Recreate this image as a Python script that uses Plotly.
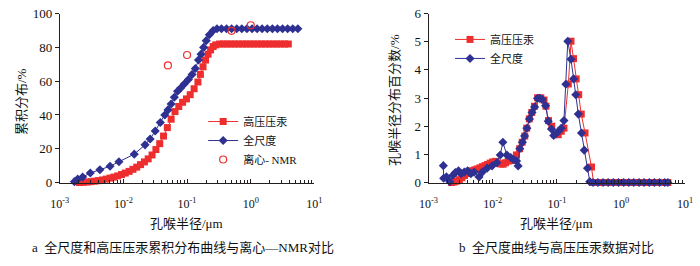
import plotly.graph_objects as go

# ---------------- data: left chart (cumulative distribution, %) ----------------
hp_cum_r = [0.00204, 0.00234, 0.00269, 0.00309, 0.00355, 0.00407, 0.00468, 0.00537, 0.00617, 0.00708,
            0.00813, 0.00933, 0.0107, 0.0123, 0.0141, 0.0162, 0.0186, 0.0214, 0.0245, 0.0282,
            0.0324, 0.0372, 0.0427, 0.0490, 0.0562, 0.0646, 0.0741, 0.0851, 0.0977, 0.112,
            0.129, 0.148, 0.162, 0.178, 0.195, 0.214, 0.234, 0.257, 0.282, 0.324,
            0.372, 0.427, 0.490, 0.562, 0.646, 0.741, 0.851, 0.977, 1.12, 1.29,
            1.48, 1.70, 1.95, 2.24, 2.57, 2.95, 3.39, 3.89]
hp_cum_v = [0, 0.1, 0.3, 0.5, 0.8, 1.1, 1.5, 2.0, 2.6, 3.2,
            3.9, 4.7, 5.6, 6.6, 7.8, 9.1, 10.6, 12.2, 14.0, 16.3,
            19.5, 23.0, 27.5, 32.5, 37.5, 42.0, 45.0, 47.5, 49.5, 52.0,
            55.5, 59.5, 64.0, 68.5, 72.5, 76.0, 78.5, 80.5, 81.5, 82.0,
            82, 82, 82, 82, 82, 82, 82, 82, 82, 82,
            82, 82, 82, 82, 82, 82, 82, 82]

fs_cum_r = [0.00170, 0.00191, 0.00229, 0.00302, 0.00427, 0.00617, 0.00851, 0.0148, 0.0219, 0.0263,
            0.0316, 0.0380, 0.0447, 0.0501, 0.0562, 0.0631, 0.0708, 0.0794, 0.0912, 0.105,
            0.120, 0.135, 0.151, 0.166, 0.182, 0.200, 0.224, 0.257, 0.295, 0.347,
            0.417, 0.501, 0.603, 0.724, 0.871, 1.05, 1.26, 1.51, 1.82, 2.19,
            2.63, 3.16, 3.80, 4.57, 5.50]
fs_cum_v = [0.5, 2.0, 3.3, 5.6, 7.6, 9.6, 12.3, 16.8, 22.3, 25.8,
            30.5, 35.5, 40.0, 43.0, 46.5, 50.5, 54.0, 56.0, 58.5, 61.0,
            64.0, 67.5, 72.5, 76.0, 80.0, 84.0, 87.5, 90.0, 91.0, 91.0,
            91, 91, 91, 91, 91, 91, 91, 91, 91, 91,
            91, 91, 91, 91, 91]

nmr_r = [0.05, 0.1, 0.5, 1.0]
nmr_v = [69.3, 75.5, 89.8, 93.1]

# ---------------- data: right chart (distribution percentage, %) ----------------
hp_pct_r = [0.00229, 0.00251, 0.00275, 0.00302, 0.00331, 0.00363, 0.00398, 0.00437, 0.00479, 0.00525,
            0.00575, 0.00631, 0.00692, 0.00759, 0.00832, 0.00912, 0.0100, 0.0110, 0.0120, 0.0132,
            0.0145, 0.0158, 0.0174, 0.0191, 0.0209, 0.0234, 0.0263, 0.0288, 0.0316, 0.0339,
            0.0372, 0.0407, 0.0447, 0.0501, 0.0562, 0.0631, 0.0676, 0.0741, 0.0832, 0.0933,
            0.105, 0.117, 0.129, 0.151, 0.166, 0.182, 0.200, 0.219, 0.240, 0.275,
            0.347, 0.372, 0.447, 0.537, 0.646, 0.776, 0.933, 1.12, 1.35, 1.62,
            1.95, 2.34, 2.82, 3.39, 4.07, 4.90, 5.37]
hp_pct_v = [0.0, 0.02, 0.05, 0.10, 0.17, 0.25, 0.32, 0.38, 0.42, 0.45,
            0.48, 0.52, 0.56, 0.60, 0.64, 0.69, 0.73, 0.75, 0.70, 0.66,
            0.65, 0.70, 0.76, 0.78, 0.84, 0.98, 1.20, 1.43, 1.65, 1.93,
            2.26, 2.49, 2.71, 3.01, 3.01, 2.93, 2.71, 2.20, 2.00, 1.70,
            1.70, 1.82, 1.93, 3.50, 5.02, 4.40, 3.68, 3.12, 2.43, 1.76,
            0.55, 0, 0, 0, 0, 0, 0, 0, 0, 0,
            0, 0, 0, 0, 0, 0, 0]

fs_pct_r = [0.00170, 0.00172, 0.00190, 0.00214, 0.00240, 0.00261, 0.00293, 0.00321, 0.00361, 0.00406,
            0.00457, 0.00513, 0.00612, 0.00688, 0.00818, 0.00977, 0.0116, 0.0131, 0.0144, 0.0166,
            0.0191, 0.0214, 0.0235, 0.0249, 0.0264, 0.0290, 0.0314, 0.0341, 0.0374, 0.0410,
            0.0450, 0.0500, 0.0542, 0.0594, 0.0667, 0.0733, 0.0823, 0.0893, 0.0970, 0.106,
            0.117, 0.129, 0.138, 0.148, 0.166, 0.182, 0.197, 0.216, 0.242, 0.267,
            0.300, 0.326, 0.367, 0.437, 0.525, 0.631, 0.759, 0.912, 1.10, 1.32,
            1.58, 1.91, 2.29, 2.75, 3.31, 3.98, 4.79, 5.37]
fs_pct_v = [0.60, 0.15, 0.20, 0.03, 0.26, 0.35, 0.42, 0.31, 0.37, 0.42,
            0.31, 0.37, 0.20, 0.37, 0.51, 0.59, 0.70, 0.98, 1.43, 0.98,
            0.89, 0.81, 0.76, 0.59, 1.20, 1.43, 1.65, 1.93, 2.26, 2.49,
            2.68, 2.99, 2.99, 2.95, 2.73, 2.18, 1.90, 1.67, 1.74, 1.82,
            1.93, 2.20, 3.49, 5.02, 4.38, 3.68, 3.12, 2.43, 1.76, 1.15,
            0.51, 0.03, 0, 0, 0, 0, 0, 0, 0, 0,
            0, 0, 0, 0, 0, 0, 0, 0]

x_tickvals = [0.001, 0.01, 0.1, 1, 10]
x_ticktext = ["10<sup>-3</sup>", "10<sup>-2</sup>", "10<sup>-1</sup>", "10<sup>0</sup>", "10<sup>1</sup>"]
left_yticks = [0, 20, 40, 60, 80, 100]
right_yticks = [0, 1, 2, 3, 4, 5, 6]

names = ["高压压汞", "全尺度", "离心- NMR"]
x_title = "孔喉半径/μm"
left_ytitle = "累积分布/%"
right_ytitle = "孔喉半径分布百分数/%"
caption_a = "a  全尺度和高压压汞累积分布曲线与离心—NMR对比"
caption_b = "b  全尺度曲线与高压压汞数据对比"

# ---------------- styling ----------------
RED = "#EE2E2E"
BLUE = "#2E3192"
AXC = "#231F20"
FONT = "Liberation Serif, 'Times New Roman', 'Noto Sans CJK SC', serif"
W, H = 700, 266

def px(xp):
    return xp / W

def py(yp):
    return 1 - yp / H

minor_vals = [m * 10 ** e for e in range(-3, 1) for m in range(2, 10)]

fig = go.Figure()

# left chart
fig.add_trace(go.Scatter(x=hp_cum_r, y=hp_cum_v, name=names[0], mode="lines+markers",
                         line=dict(color=RED, width=1), marker=dict(symbol="square", size=7, color=RED),
                         xaxis="x", yaxis="y", legend="legend", cliponaxis=False))
fig.add_trace(go.Scatter(x=fs_cum_r, y=fs_cum_v, name=names[1], mode="lines+markers",
                         line=dict(color=BLUE, width=1), marker=dict(symbol="diamond", size=7, color=BLUE),
                         xaxis="x", yaxis="y", legend="legend", cliponaxis=False))
fig.add_trace(go.Scatter(x=nmr_r, y=nmr_v, name=names[2], mode="markers",
                         marker=dict(symbol="circle-open", size=7, color=RED, line=dict(width=1.2, color=RED)),
                         xaxis="x", yaxis="y", legend="legend", cliponaxis=False))

# right chart
fig.add_trace(go.Scatter(x=hp_pct_r, y=hp_pct_v, name=names[0], mode="lines+markers",
                         line=dict(color=RED, width=1), marker=dict(symbol="square", size=7, color=RED),
                         xaxis="x2", yaxis="y2", legend="legend2", cliponaxis=False))
fig.add_trace(go.Scatter(x=fs_pct_r, y=fs_pct_v, name=names[1], mode="lines+markers",
                         line=dict(color=BLUE, width=1), marker=dict(symbol="diamond", size=7, color=BLUE),
                         xaxis="x2", yaxis="y2", legend="legend2", cliponaxis=False))

xaxis_common = dict(type="log", range=[-3, 1], tickmode="array", tickvals=x_tickvals, ticktext=x_ticktext,
                    showline=True, linecolor=AXC, linewidth=1, ticks="inside", ticklen=4, tickcolor=AXC,
                    showgrid=False, zeroline=False, tickfont=dict(family=FONT, size=12, color="#111"),
                    ticklabeloverflow="allow", ticklabelstandoff=10,
                    minor=dict(tickmode="array", tickvals=minor_vals, ticks="inside", ticklen=3, tickcolor=AXC,
                               showgrid=False))
yaxis_common = dict(showline=True, linecolor=AXC, linewidth=1, ticks="outside", ticklen=4, tickcolor=AXC,
                    showgrid=False, zeroline=False, tickfont=dict(family=FONT, size=13, color="#111"),
                    tickmode="array", ticklabeloverflow="allow")

dom_y = [py(186), py(7)]
fig.update_layout(
    width=W, height=H, margin=dict(l=0, r=0, t=0, b=0),
    paper_bgcolor="white", plot_bgcolor="white",
    font=dict(family=FONT, size=12, color="#111"),
    xaxis=dict(domain=[px(52), px(313)], anchor="y", **xaxis_common),
    yaxis=dict(domain=dom_y, anchor="x", range=[0, 100], tickvals=left_yticks, **yaxis_common),
    xaxis2=dict(domain=[px(430), px(693)], anchor="y2", **xaxis_common),
    yaxis2=dict(domain=dom_y, anchor="x2", range=[0, 6], tickvals=right_yticks, **yaxis_common),
    legend=dict(x=px(199), y=py(106), xanchor="left", yanchor="top", bgcolor="rgba(0,0,0,0)",
                font=dict(family=FONT, size=11), itemwidth=30, tracegroupgap=0),
    legend2=dict(x=px(452), y=py(19), xanchor="left", yanchor="top", bgcolor="rgba(0,0,0,0)",
                 font=dict(family=FONT, size=11), itemwidth=30, tracegroupgap=0),
    showlegend=True,
)

annos = [
    dict(text=x_title, x=px(182), y=py(229), xanchor="center", yanchor="middle", font=dict(size=13)),
    dict(text=x_title, x=px(561), y=py(229), xanchor="center", yanchor="middle", font=dict(size=13)),
    dict(text=caption_a, x=px(178), y=py(255), xanchor="center", yanchor="middle", font=dict(size=13)),
    dict(text=caption_b, x=px(561), y=py(255), xanchor="center", yanchor="middle", font=dict(size=13)),
    dict(text=left_ytitle, x=px(13), y=py(100), xanchor="center", yanchor="middle", textangle=-90,
         font=dict(size=13)),
    dict(text=right_ytitle, x=px(395), y=py(98), xanchor="center", yanchor="middle", textangle=-90,
         font=dict(size=13)),
]
for a in annos:
    a.update(xref="paper", yref="paper", showarrow=False)
    fig.add_annotation(**a)

page_fix = "document.body.style.margin='0';document.body.style.padding='0';"
fig.write_html("out.html", config={"displayModeBar": False}, post_script=page_fix)
